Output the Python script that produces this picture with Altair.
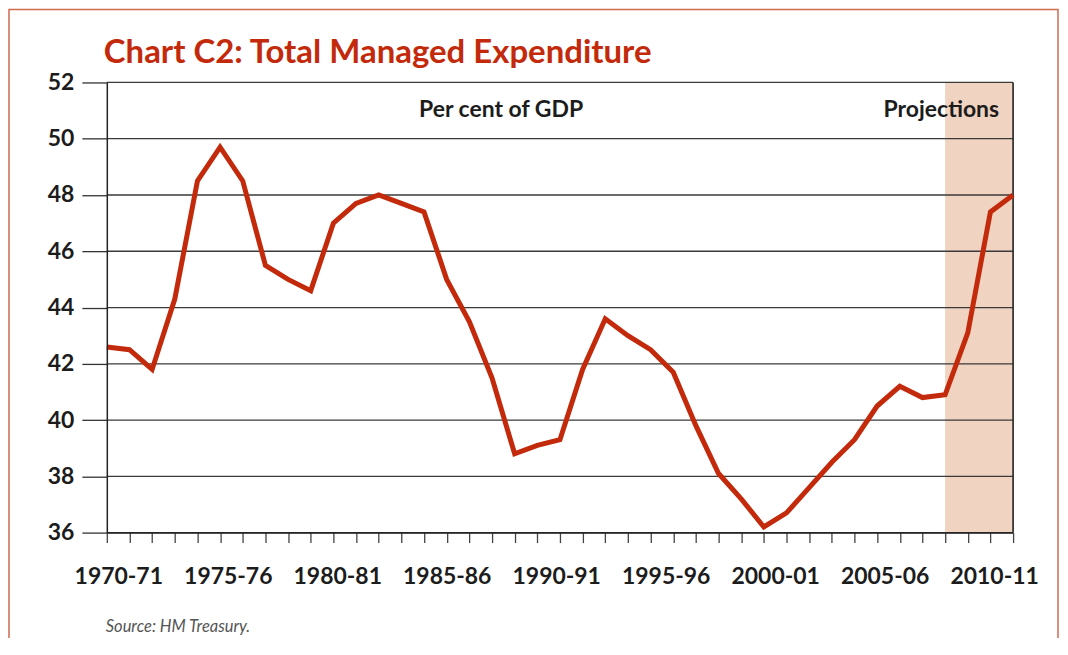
import altair as alt
import pandas as pd

years = [
    "1970-71", "1971-72", "1972-73", "1973-74", "1974-75", "1975-76", "1976-77",
    "1977-78", "1978-79", "1979-80", "1980-81", "1981-82", "1982-83", "1983-84",
    "1984-85", "1985-86", "1986-87", "1987-88", "1988-89", "1989-90", "1990-91",
    "1991-92", "1992-93", "1993-94", "1994-95", "1995-96", "1996-97", "1997-98",
    "1998-99", "1999-00", "2000-01", "2001-02", "2002-03", "2003-04", "2004-05",
    "2005-06", "2006-07", "2007-08", "2008-09", "2009-10", "2010-11",
]
tme = [
    42.6, 42.5, 41.8, 44.3, 48.5, 49.7, 48.5, 45.5, 45.0, 44.6,
    47.0, 47.7, 48.0, 47.7, 47.4, 45.0, 43.5, 41.5, 38.8, 39.1,
    39.3, 41.8, 43.6, 43.0, 42.5, 41.7, 39.8, 38.1, 37.2, 36.2,
    36.7, 37.6, 38.5, 39.3, 40.5, 41.2, 40.8, 40.9, 43.1, 47.4, 48.0,
]
x_labels = ["1970-71", "1975-76", "1980-81", "1985-86", "1990-91",
            "1995-96", "2000-01", "2005-06", "2010-11"]
y_ticks = [36, 38, 40, 42, 44, 46, 48, 50, 52]
proj_start = "2007-08"
proj_end = "2010-11"

W, H = 908, 451
RED = "#c32a0b"
INK = "#1c1c1c"
FONT = "Lato"

df = pd.DataFrame({"year": years, "value": tme})
shade_df = pd.DataFrame({"year": [proj_start], "end": [proj_end], "value": [36], "hi": [52]})
grid_df = pd.DataFrame({"value": y_ticks})
edge_df = pd.DataFrame({"year": [proj_end], "value": [36], "hi": [52]})
lab_df = pd.DataFrame({"lab": x_labels})

xscale = alt.Scale(type="point", domain=years, padding=0)
yscale = alt.Scale(domain=[36, 52], nice=False, zero=False)

xaxis = alt.Axis(
    title=None,
    labels=False,
    ticks=True,
    tickSize=10,
    tickColor="#444444",
    tickWidth=1.3,
    domainColor="#222222",
    domainWidth=1.5,
    grid=False,
    zindex=1,
)
yaxis = alt.Axis(
    title=None,
    values=y_ticks,
    grid=False,
    ticks=True,
    tickSize=25,
    tickColor="#333333",
    tickWidth=1.3,
    domainColor="#222222",
    domainWidth=1.5,
    labelFont=FONT,
    labelFontWeight="bold",
    labelFontSize=23,
    labelColor=INK,
    labelPadding=8,
    zindex=1,
)

X = alt.X("year:O", scale=xscale, axis=xaxis, sort=years)
Y = alt.Y("value:Q", scale=yscale, axis=yaxis)

shade = alt.Chart(shade_df).mark_rect(color="#f0d3c0").encode(
    x=X, x2="end:O", y=Y, y2="hi:Q",
)

grid = alt.Chart(grid_df).mark_rule(color="#3a3a3a", strokeWidth=1.3).encode(y=Y)

edge = alt.Chart(edge_df).mark_rule(color="#222222", strokeWidth=1.6).encode(
    x=X, y=Y, y2="hi:Q",
)

line = alt.Chart(df).mark_line(color=RED, strokeWidth=5, strokeJoin="miter").encode(x=X, y=Y)

main = alt.layer(shade, grid, edge, line)

# category labels below the axis, spaced as in the original print layout
xlabels = alt.Chart(lab_df).mark_text(
    font=FONT, fontWeight="bold", fontSize=23, color=INK, baseline="alphabetic", align="center"
).encode(
    x=alt.X("lab:O", scale=alt.Scale(type="point", domain=x_labels, range=[12, 889.5], padding=0),
            axis=None),
    y=alt.value(H + 51),
    text="lab:N",
)

def label(text, x, y, size, color=INK, weight="bold", align="left", style="normal"):
    return alt.Chart(pd.DataFrame({"t": [text]})).mark_text(
        align=align, baseline="alphabetic", font=FONT, fontSize=size,
        fontWeight=weight, fontStyle=style, color=color,
    ).encode(text="t:N", x=alt.value(x), y=alt.value(y))

title = label("Chart C2: Total Managed Expenditure", -3, -19, 33, color=RED)
sub = label("Per cent of GDP", 395, 35, 23, align="center")
proj = label("Projections", 894, 35, 23, align="right")
source = label("Source: HM Treasury.", -1, 551, 16.5, color="#555555", weight="normal", style="italic")

border = alt.Chart(pd.DataFrame({"a": [0]})).mark_rect(
    fillOpacity=0, stroke="#cf6a50", strokeWidth=1.5
).encode(x=alt.value(-98), x2=alt.value(953), y=alt.value(-73), y2=alt.value(640))

chart = alt.layer(
    main, xlabels, title, sub, proj, source, border
).resolve_scale(x="independent").properties(
    width=W,
    height=H,
    padding={"left": 99, "top": 74, "right": 47, "bottom": 105},
    autosize=alt.AutoSizeParams(type="none"),
    background="white",
).configure_view(stroke=None)

chart.save("out.html", embed_options={"renderer": "svg", "actions": False})
